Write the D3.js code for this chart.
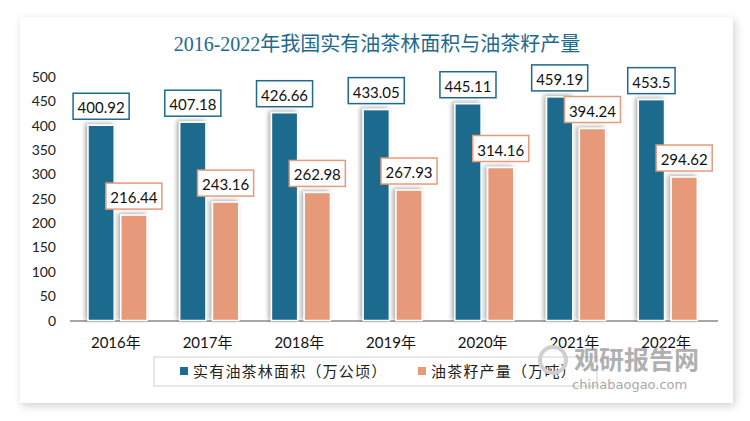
<!DOCTYPE html>
<html><head><meta charset="utf-8">
<script src="https://cdn.jsdelivr.net/npm/d3@7"></script>
<style>body{margin:0;background:#fff}svg{display:block}</style>
</head><body>
<svg id="c" width="750" height="421"></svg>
<script>
const title = "2016-2022年我国实有油茶林面积与油茶籽产量";
const categories = ["2016年","2017年","2018年","2019年","2020年","2021年","2022年"];
const areaValues = [400.92,407.18,426.66,433.05,445.11,459.19,453.5];
const outputValues = [216.44,243.16,262.98,267.93,314.16,394.24,294.62];
const seriesNames = ["实有油茶林面积（万公顷）","油茶籽产量（万吨）"];
const yTicks = [0,50,100,150,200,250,300,350,400,450,500];

const blue = "#1d6a8d", orange = "#e79a79";
const font = "Lato, 'Open Sans', 'Noto Sans CJK SC', sans-serif";
const svg = d3.select("#c");
const defs = svg.append("defs");
const f = defs.append("filter").attr("id","card").attr("x","-5%").attr("y","-5%").attr("width","110%").attr("height","115%");
f.append("feDropShadow").attr("dx",2).attr("dy",3).attr("stdDeviation",4).attr("flood-color","#000").attr("flood-opacity",0.18);
const bf = defs.append("filter").attr("id","bar").attr("x","-40%").attr("y","-10%").attr("width","180%").attr("height","120%");
bf.append("feDropShadow").attr("dx",-2).attr("dy",-1).attr("stdDeviation",2).attr("flood-color","#000").attr("flood-opacity",0.35);

svg.append("rect").attr("x",20).attr("y",17).attr("width",713).attr("height",386).attr("fill","#fff").attr("filter","url(#card)");

svg.append("text").attr("x",377).attr("y",51).attr("text-anchor","middle")
  .attr("font-family","'Liberation Serif','Noto Sans CJK SC',serif").attr("font-size",20)
  .attr("fill","#1d6a8d").text(title);

const y = d3.scaleLinear().domain([0,500]).range([320.5,77]);
const x = d3.scaleBand().domain(categories).range([70,712]);
const sub = d3.scaleBand().domain([0,1]).range([0,59]).paddingInner(0.2);
const off = 18;

// y axis labels
svg.append("g").selectAll("text").data(yTicks).join("text")
  .attr("x",56).attr("y",d=>y(d)+5).attr("text-anchor","end")
  .attr("font-family",font).attr("font-size",14).attr("fill","#222").text(d=>d);

// baseline
svg.append("line").attr("x1",70).attr("x2",718).attr("y1",321).attr("y2",321).attr("stroke","#8a8a8a").attr("stroke-width",1.5);

const series = [areaValues, outputValues];
const colors = [blue, orange];
series.forEach((vals,si)=>{
  const g = svg.append("g");
  g.selectAll("rect").data(vals).join("rect")
    .attr("x",(d,i)=>x(categories[i])+off+sub(si))
    .attr("y",d=>y(d)).attr("width",sub.bandwidth()).attr("height",d=>y(0)-y(d))
    .attr("fill",colors[si]).attr("stroke","#fff").attr("stroke-width",1.5)
    .attr("filter","url(#bar)");
});

// labels
series.forEach((vals,si)=>{
  vals.forEach((v,i)=>{
    const cx = x(categories[i])+off+sub(si)+sub.bandwidth()/2;
    const txt = String(v);
    const g = svg.append("g");
    const t = g.append("text").attr("x",cx).attr("text-anchor","middle")
      .attr("y",y(v)-12).attr("font-family",font).attr("font-size",15).attr("fill","#111").text(txt);
    const w = t.node().getComputedTextLength()+9;
    g.insert("rect","text").attr("x",cx-w/2).attr("y",y(v)-32).attr("width",w).attr("height",26)
      .attr("fill","#fff").attr("stroke",colors[si]).attr("stroke-width",1.5);
  });
});

// x labels
svg.append("g").selectAll("text").data(categories).join("text")
  .attr("x",d=>x(d)+x.bandwidth()/2).attr("y",348).attr("text-anchor","middle")
  .attr("font-family",font).attr("font-size",15).attr("fill","#111").text(d=>d);

// legend
svg.append("rect").attr("x",154).attr("y",357).attr("width",443).attr("height",29).attr("fill","#fff").attr("stroke","#d0d0d0");
const leg = [{x:180,c:blue,t:seriesNames[0]},{x:418,c:orange,t:seriesNames[1]}];
leg.forEach(l=>{
  svg.append("rect").attr("x",l.x).attr("y",367).attr("width",8).attr("height",8).attr("fill",l.c);
  svg.append("text").attr("x",l.x+13).attr("y",377).attr("font-family","'Noto Sans CJK SC',sans-serif")
    .attr("font-size",15).attr("letter-spacing",1.2).attr("fill","#222").text(l.t);
});

// watermark
svg.append("circle").attr("cx",553).attr("cy",360).attr("r",13).attr("fill","none").attr("stroke","#cfcfcf").attr("stroke-width",4);
svg.append("text").attr("x",574).attr("y",369).attr("font-family","'Noto Sans CJK SC',sans-serif").attr("font-weight","bold")
  .attr("font-size",25).attr("fill","#9a9a9a").attr("fill-opacity",0.8).text("观研报告网");
svg.append("text").attr("x",572).attr("y",389).attr("font-family","'DejaVu Sans',sans-serif")
  .attr("font-size",13).attr("fill","#a8a8a8").text("chinabaogao.com");
</script>
</body></html>
